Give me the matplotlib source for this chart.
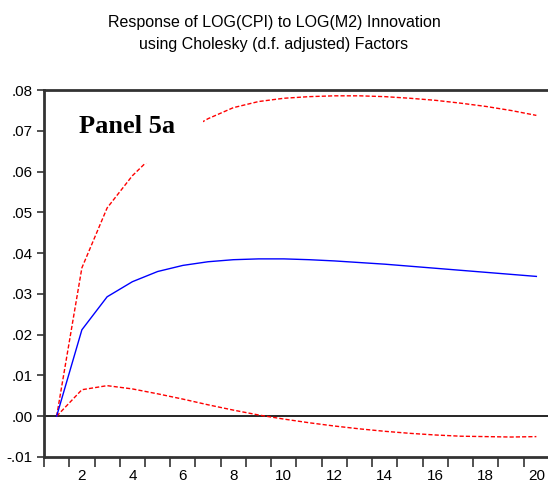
import numpy as np
import matplotlib
matplotlib.use("Agg")
import matplotlib.pyplot as plt
from matplotlib.patches import Rectangle
from matplotlib.ticker import FixedLocator, FuncFormatter

# impulse response of LOG(CPI) to a LOG(M2) shock, with +/- 2 s.e. bands
periods = np.arange(1, 21)
response = [0.0, 0.0212, 0.0293, 0.0330, 0.0355, 0.0370, 0.0379, 0.0384, 0.0386, 0.0386,
            0.0384, 0.0381, 0.0377, 0.0373, 0.0368, 0.0363, 0.0358, 0.0353, 0.0348, 0.0343]
upper_band = [0.0, 0.0364, 0.0511, 0.0590, 0.0650, 0.0695, 0.0730, 0.0757, 0.0772, 0.0780,
              0.0784, 0.0786, 0.0786, 0.0784, 0.0780, 0.0775, 0.0768, 0.0760, 0.0750, 0.0738]
lower_band = [0.0, 0.0065, 0.0075, 0.0067, 0.0055, 0.0042, 0.0028, 0.0015, 0.0003, -0.0007,
              -0.0016, -0.0024, -0.0031, -0.0037, -0.0042, -0.0046, -0.0049, -0.0050, -0.0051, -0.0050]

title = "Response of LOG(CPI) to LOG(M2) Innovation\nusing Cholesky (d.f. adjusted) Factors"
panel_label = "Panel 5a"

plt.rcParams['font.family'] = ['Liberation Sans', 'DejaVu Sans']

fig = plt.figure(figsize=(5.48, 4.84), dpi=100)
ax = fig.add_axes([0.0803, 0.0558, 0.9215, 0.758])

ax.axhline(0, color='black', lw=1.2, zorder=1)
ax.plot(periods, upper_band, color='red', lw=1.0, ls=(0, (3, 1.5)), zorder=2)
ax.plot(periods, lower_band, color='red', lw=1.0, ls=(0, (3, 1.5)), zorder=2)
ax.plot(periods, response, color='blue', lw=1.0, zorder=3)

ax.set_xlim(0.5, 20.5)
ax.set_ylim(-0.01, 0.08)

ax.xaxis.set_major_locator(FixedLocator(np.arange(2, 21, 2)))
ax.xaxis.set_minor_locator(FixedLocator(np.arange(0.5, 21, 1)))
ax.tick_params(axis='x', which='major', length=0, labelsize=11, pad=9)
ax.tick_params(axis='x', which='minor', length=7, width=1.2, color='#333333', direction='out')

ax.set_yticks(np.arange(-0.01, 0.081, 0.01))
ax.yaxis.set_major_formatter(FuncFormatter(lambda v, p: ("%.2f" % v).replace("0.", ".", 1)))
ax.tick_params(axis='y', length=5, width=1.2, color='#333333', labelsize=11, pad=3)

for side in ['left', 'bottom', 'top']:
    ax.spines[side].set_linewidth(2)
    ax.spines[side].set_color('#333333')
    ax.spines[side].set_zorder(6)
ax.spines['right'].set_visible(False)

# white text box behind the panel label
ax.add_patch(Rectangle((1.6, 0.0621), 5.2, 0.0165, facecolor='white',
                       edgecolor='none', zorder=4))
ax.text(1.9, 0.0695, panel_label, family=['Liberation Serif', 'DejaVu Serif'],
        fontweight='bold', fontsize=19, zorder=5)

fig.text(0.5, 0.968, title, ha='center', va='top', family=['Liberation Sans', 'DejaVu Sans'],
         fontsize=11.5, linespacing=1.55)

fig.savefig("out.png", dpi=100)
